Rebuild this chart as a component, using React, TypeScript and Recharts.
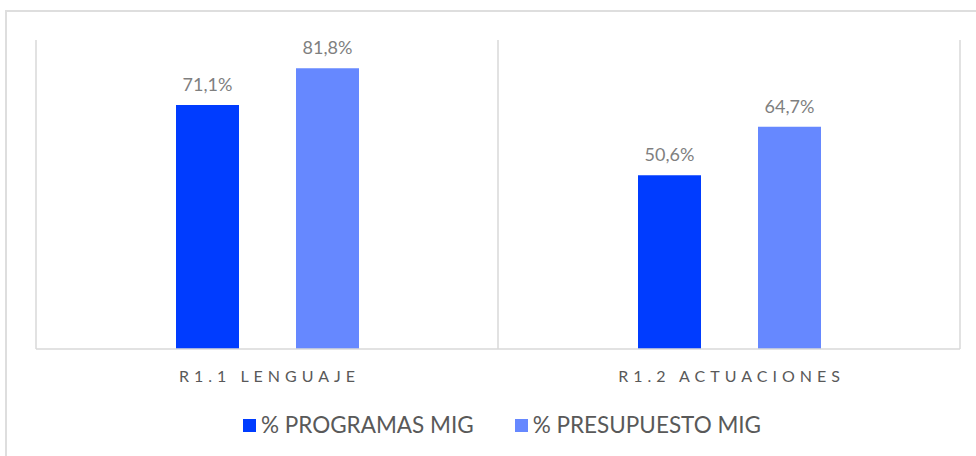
import React from "react";
import { BarChart, Bar, XAxis, YAxis, CartesianGrid, Legend, LabelList } from "recharts";

const categories = ["R1.1 LENGUAJE", "R1.2 ACTUACIONES"];
const programasMig = [71.1, 50.6];
const presupuestoMig = [81.8, 64.7];
const seriesNames = ["% PROGRAMAS MIG", "% PRESUPUESTO MIG"];
const seriesColors = ["#003CFF", "#6688FF"];

const data = categories.map((name, i) => ({
  name,
  programas: programasMig[i],
  presupuesto: presupuestoMig[i],
}));

const FONT = "Lato, 'Open Sans', sans-serif";

const fmt = (v: any) => `${Number(v).toFixed(1).replace(".", ",")}%`;

const AxisTick = (props: any) => {
  const { x, y, payload } = props;
  return (
    <text
      x={x + 2.5}
      y={y}
      dy={25}
      textAnchor="middle"
      fill="#595959"
      fontFamily={FONT}
      fontSize={16}
      letterSpacing={5}
    >
      {payload.value}
    </text>
  );
};

const LegendContent = () => (
  <div
    style={{
      display: "flex",
      justifyContent: "center",
      alignItems: "center",
      fontFamily: FONT,
      fontSize: 22.5,
      color: "#595959",
      paddingLeft: 28,
      lineHeight: "26px",
    }}
  >
    {seriesNames.map((n, i) => (
      <div key={n} style={{ display: "flex", alignItems: "center", marginRight: i === 0 ? 41 : 0 }}>
        <span
          style={{
            display: "inline-block",
            width: 13,
            height: 13,
            background: seriesColors[i],
            marginRight: 5,
          }}
        />
        <span>{n}</span>
      </div>
    ))}
  </div>
);

export default function App() {
  return (
    <div style={{ position: "absolute", left: 0, top: 0, width: 976, height: 456, overflow: "hidden", background: "#fff" }}>
      <div
        style={{
          position: "absolute",
          left: 5,
          top: 10,
          width: 1000,
          height: 500,
          borderTop: "2px solid #dedede",
          borderLeft: "2px solid #dedede",
          boxSizing: "border-box",
        }}
      />
      <div style={{ position: "absolute", left: 0, top: 0 }}>
        <BarChart
          width={976}
          height={456}
          data={data}
          margin={{ top: 40, right: 16, left: 36, bottom: 67 }}
          barSize={63}
          barGap={57}
        >
          <CartesianGrid
            horizontal={false}
            stroke="#d9d9d9"
            strokeWidth={1.5}
            verticalCoordinatesGenerator={({ offset }: any) => [
              offset.left,
              offset.left + offset.width / 2,
              offset.left + offset.width,
            ]}
          />
          <XAxis
            dataKey="name"
            axisLine={{ stroke: "#d9d9d9", strokeWidth: 1.5 }}
            tickLine={false}
            height={40}
            tick={<AxisTick />}
            interval={0}
          />
          <YAxis hide domain={[0, 90]} />
          <Legend
            verticalAlign="middle"
            layout="horizontal"
            content={<LegendContent />}
            wrapperStyle={{ position: "absolute", top: 412, left: 0, width: 976 }}
          />
          <Bar dataKey="programas" name={seriesNames[0]} fill={seriesColors[0]} isAnimationActive={false}>
            <LabelList
              dataKey="programas"
              position="top"
              offset={14}
              formatter={fmt}
              fill="#7f7f7f"
              fontFamily={FONT}
              fontSize={18}
            />
          </Bar>
          <Bar dataKey="presupuesto" name={seriesNames[1]} fill={seriesColors[1]} isAnimationActive={false}>
            <LabelList
              dataKey="presupuesto"
              position="top"
              offset={14}
              formatter={fmt}
              fill="#7f7f7f"
              fontFamily={FONT}
              fontSize={18}
            />
          </Bar>
        </BarChart>
      </div>
    </div>
  );
}
